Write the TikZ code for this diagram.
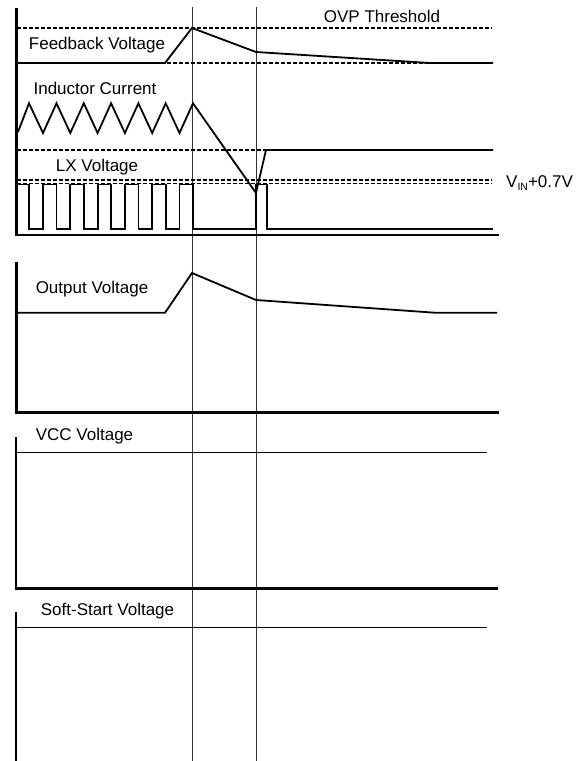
\documentclass[tikz,border=0pt]{standalone}
\usepackage{fontspec}
\setmainfont{Liberation Sans}
\usetikzlibrary{calc}

\tikzset{
  axis/.style={line width=2.8pt},
  wave/.style={line width=1.8pt},
  thr/.style={line width=1.2pt, dash pattern=on 4pt off 2pt},
  cursor/.style={line width=0.8pt, black!80},
  lbl/.style={font=\fontsize{17}{19}\selectfont, inner sep=0pt}
}

\begin{document}
\begin{tikzpicture}[x=1pt,y=-1pt]
\useasboundingbox (0,0) rectangle (583,761);

% time markers
\draw[cursor] (192,7) -- (192,761);
\draw[cursor] (256,7) -- (256,761);

% top chart
\draw[axis] (16.5,8) -- (16.5,235) -- (499,235);

\draw[thr] (16.5,28) -- (492,28);
\draw[thr] (16.5,63) -- (492,63);
\draw[thr] (16.5,150) -- (266,150);
\draw[thr] (16.5,180) -- (492,180);
\draw[thr] (16.5,183.5) -- (492,183.5);

\draw[wave] (16.5,63) -- (165,63) -- (192,28) -- (256,52) -- (430,63) -- (493,63);

\draw[wave] (18,132) -- (29,103.3)
  \foreach \t in {43,70.3,97.6,124.9,152.2,179.5} { -- (\t,133) -- ({\t+13.5},103.3) }
  -- (256,193) -- (266,150) -- (493,150);

\draw[wave] (16.5,184.5) -- (29,184.5) -- (29,229)
  \foreach \t in {43,70.3,97.6,124.9,152.2,179.5} { -- (\t,229) -- (\t,184.5) -- ({\t+13.5},184.5) -- ({\t+13.5},229) }
  -- (256,229) -- (256,184.5) -- (267,184.5) -- (267,229) -- (493,229);

\node[lbl] (ovp) at (382,16) {OVP Threshold};
\node[lbl] (fb) at (97,45) {Feedback Voltage};
\node[lbl] (il) at (95,88) {Inductor Current};
\node[lbl] (lx) at (97,167) {LX Voltage};
\node[lbl, anchor=west] (vin) at (506,183) {V\raisebox{-0.4ex}{\fontsize{10.5}{10.5}\selectfont IN}+0.7V};

% output voltage
\draw[axis] (16.5,262) -- (16.5,412.5) -- (499,412.5);
\draw[wave] (16.5,312.8) -- (165,312.8) -- (192,273) -- (256,300) -- (436,312.8) -- (497,312.8);
\node[lbl] (vout) at (92,289) {Output Voltage};

% vcc
\draw[axis] (16,437) -- (16,588.3) -- (498,588.3);
\draw[line width=1.3pt] (16,452.7) -- (487,452.7);
\node[lbl] (vcc) at (84.5,436) {VCC Voltage};

% soft-start
\draw[axis] (16,612) -- (16,761);
\draw[line width=1.3pt] (16,627.3) -- (487,627.3);
\node[lbl] (ss) at (107.5,611) {Soft-Start Voltage};

\end{tikzpicture}
\end{document}
